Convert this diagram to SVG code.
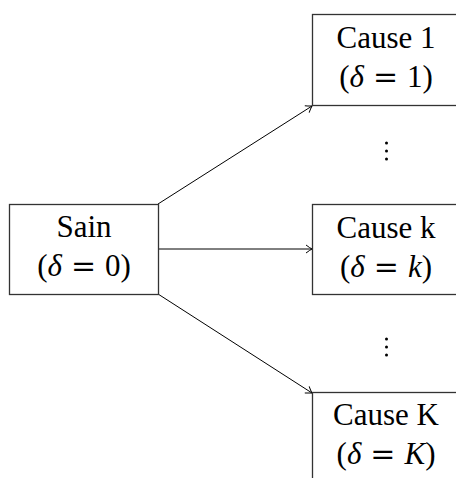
<svg xmlns="http://www.w3.org/2000/svg" width="456" height="478" viewBox="0 0 456 478">
<defs>
<style>
.box{fill:#fff;stroke:#333;stroke-width:1.3}
.t{font-family:"Liberation Serif","DejaVu Serif",serif;font-size:31px;fill:#000;text-anchor:middle}
.i{font-style:italic}
.eq{font-family:"DejaVu Serif",serif;font-size:30px}
.edge{stroke:#000;stroke-width:1;fill:none}
.dot{fill:#000}
</style>
<marker id="ah" markerWidth="12" markerHeight="12" viewBox="-8 -6 10 12" refX="0" refY="0" orient="auto" markerUnits="userSpaceOnUse">
<path d="M-6,-4 Q-2,-1 0,0 Q-2,1 -6,4" fill="none" stroke="#000" stroke-width="1"/>
</marker>
</defs>
<rect width="456" height="478" fill="#fff"/>
<g id="connectors">
<line class="edge" x1="158" y1="204" x2="312" y2="106" marker-end="url(#ah)"/>
<line class="edge" x1="158" y1="249" x2="312" y2="249" marker-end="url(#ah)"/>
<line class="edge" x1="158" y1="294" x2="312" y2="393" marker-end="url(#ah)"/>
</g>
<g id="sain">
<rect class="box" x="9.5" y="204.5" width="149" height="90"/>
<text class="t" x="84" y="237">Sain</text>
<text class="t" x="84" y="276">(<tspan class="i">δ</tspan><tspan class="eq" dx="9">=</tspan><tspan dx="9">0)</tspan></text>
</g>
<g id="cause1">
<rect class="box" x="312.5" y="14.5" width="148" height="91"/>
<text class="t" x="386" y="48">Cause 1</text>
<text class="t" x="386" y="87">(<tspan class="i">δ</tspan><tspan class="eq" dx="9">=</tspan><tspan dx="9">1)</tspan></text>
</g>
<g id="dots1">
<circle class="dot" cx="386.5" cy="143" r="1.5"/>
<circle class="dot" cx="386.5" cy="151" r="1.5"/>
<circle class="dot" cx="386.5" cy="159" r="1.5"/>
</g>
<g id="causek">
<rect class="box" x="312.5" y="204.5" width="148" height="90"/>
<text class="t" x="386" y="238">Cause k</text>
<text class="t" x="386" y="277">(<tspan class="i">δ</tspan><tspan class="eq" dx="9">=</tspan><tspan dx="9" class="i">k</tspan>)</text>
</g>
<g id="dots2">
<circle class="dot" cx="386.5" cy="339" r="1.5"/>
<circle class="dot" cx="386.5" cy="347" r="1.5"/>
<circle class="dot" cx="386.5" cy="355" r="1.5"/>
</g>
<g id="causeK">
<rect class="box" x="312.5" y="392.5" width="148" height="100"/>
<text class="t" x="386" y="425">Cause K</text>
<text class="t" x="386" y="464">(<tspan class="i">δ</tspan><tspan class="eq" dx="9">=</tspan><tspan dx="9" class="i">K</tspan>)</text>
</g>
</svg>
